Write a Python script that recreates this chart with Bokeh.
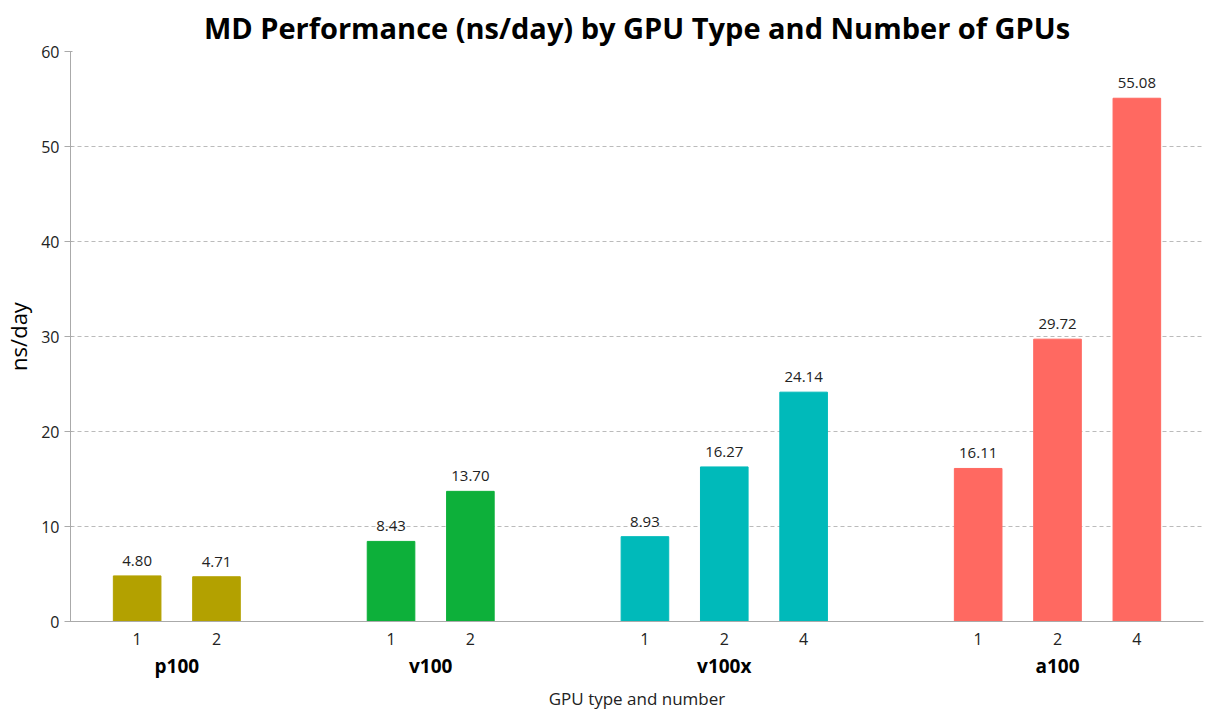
from bokeh.plotting import figure
from bokeh.models import FactorRange, ColumnDataSource, LabelSet
from bokeh.core.properties import value
from bokeh.embed import file_html
from bokeh.resources import INLINE

gpu_types = ["p100", "p100", "v100", "v100", "v100x", "v100x", "v100x", "a100", "a100", "a100"]
gpu_counts = ["1", "2", "1", "2", "1", "2", "4", "1", "2", "4"]
ns_per_day = [4.80, 4.71, 8.43, 13.70, 8.93, 16.27, 24.14, 16.11, 29.72, 55.08]
type_colors = {"p100": "#B3A100", "v100": "#0DB03A", "v100x": "#00BABA", "a100": "#FF6961"}

x = list(zip(gpu_types, gpu_counts))
src = ColumnDataSource(dict(
    x=x, y=ns_per_day,
    color=[type_colors[t] for t in gpu_types],
    label=[f"{v:.2f}" for v in ns_per_day],
))

font = "Open Sans"
p = figure(x_range=FactorRange(*x, group_padding=1.2, range_padding=0.05),
           y_range=(0, 60), width=1208, height=712,
           output_backend="svg", toolbar_location=None, min_border_left=10)
p.vbar(x="x", top="y", width=0.6, color="color", source=src)
p.add_layout(LabelSet(x="x", y="y", text="label", source=src, y_offset=10,
                      text_align="center", text_font_size="15px", text_font=value(font),
                      text_color="#222222"))

p.title.text = "MD Performance (ns/day) by GPU Type and Number of GPUs"
p.title.align = "center"
p.title.text_font = font
p.title.text_font_size = "29px"
p.title.text_font_style = "bold"
p.title.text_color = "black"

p.xaxis.axis_label = "GPU type and number"
p.xaxis.axis_label_text_font = font
p.xaxis.axis_label_text_font_size = "17px"
p.xaxis.axis_label_text_font_style = "normal"
p.xaxis.axis_label_text_color = "#222222"
p.xaxis.major_label_text_font = font
p.xaxis.major_label_text_font_size = "16px"
p.xaxis.major_label_text_color = "#222222"
p.xaxis.group_text_font = font
p.xaxis.group_text_font_size = "19px"
p.xaxis.group_text_font_style = "bold"
p.xaxis.group_text_color = "black"
p.xaxis.separator_line_color = None
p.xaxis.major_tick_line_color = None
p.xaxis.axis_line_color = "#aaaaaa"

p.yaxis.axis_label = "ns/day"
p.yaxis.axis_label_text_font = font
p.yaxis.axis_label_text_font_size = "22px"
p.yaxis.axis_label_text_font_style = "normal"
p.yaxis.axis_label_text_color = "black"
p.yaxis.major_label_text_font = font
p.yaxis.major_label_text_font_size = "16px"
p.yaxis.major_label_text_color = "#222222"
p.yaxis.ticker = [0, 10, 20, 30, 40, 50, 60]
p.yaxis.axis_line_color = "#aaaaaa"
p.yaxis.major_tick_line_color = "#aaaaaa"
p.yaxis.minor_tick_line_color = None

p.xgrid.grid_line_color = None
p.ygrid.grid_line_color = "#bbbbbb"
p.ygrid.grid_line_dash = "4 3"
p.outline_line_color = None

open("out.html", "w").write(file_html(p, INLINE))
